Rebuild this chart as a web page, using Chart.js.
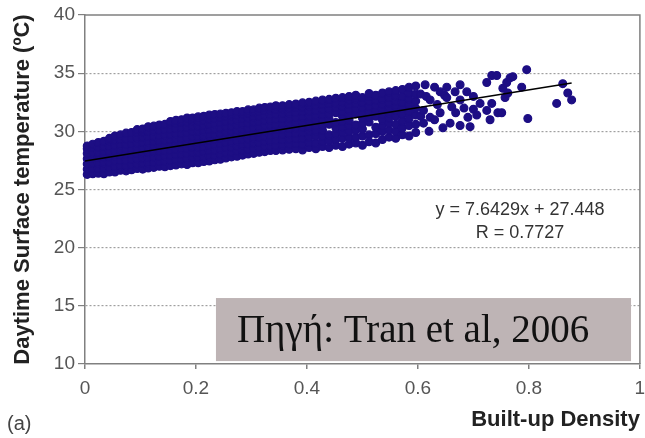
<!DOCTYPE html>
<html>
<head>
<meta charset="utf-8">
<script src="https://cdn.jsdelivr.net/npm/chart.js@4/dist/chart.umd.min.js"></script>
<style>
  html, body { margin: 0; padding: 0; background: #fff; }
  #wrap { width: 645px; height: 438px; }
</style>
</head>
<body>
<div id="wrap"><canvas id="chart" width="645" height="438"></canvas></div>
<script>
// Built-up density (x) against daytime surface temperature in °C (y).

// Dense part of the cloud: one density value per column, with the temperatures found in that column.
const coreDensity = [
  0.004, 0.014, 0.024, 0.034, 0.044, 0.054, 0.064, 0.074, 0.084, 0.094,
  0.104, 0.114, 0.124, 0.134, 0.144, 0.154, 0.164, 0.174, 0.184, 0.194,
  0.204, 0.214, 0.224, 0.234, 0.244, 0.254, 0.264, 0.274, 0.284, 0.294,
  0.304, 0.314, 0.324, 0.334, 0.344
];
const coreTemps = [
  [26.3, 26.75, 27.2, 27.65, 28.1, 28.5, 28.75],
  [26.35, 26.8, 27.25, 27.7, 28.15, 28.6, 28.9],
  [26.4, 26.8, 27.3, 27.75, 28.2, 28.65, 29.05],
  [26.35, 26.85, 27.3, 27.8, 28.25, 28.7, 29.15],
  [26.5, 26.9, 27.35, 27.8, 28.3, 28.75, 29.2, 29.4],
  [26.5, 27.0, 27.45, 27.9, 28.35, 28.8, 29.25, 29.6],
  [26.65, 27.05, 27.5, 27.95, 28.4, 28.85, 29.3, 29.7],
  [26.6, 27.05, 27.5, 28.0, 28.45, 28.9, 29.35, 29.85],
  [26.7, 27.15, 27.6, 28.05, 28.5, 28.95, 29.4, 29.9],
  [26.8, 27.2, 27.65, 28.1, 28.55, 29.0, 29.45, 29.9, 30.15],
  [26.75, 27.25, 27.7, 28.15, 28.6, 29.05, 29.5, 29.95, 30.2],
  [26.85, 27.3, 27.75, 28.2, 28.65, 29.1, 29.55, 30.0, 30.4],
  [26.9, 27.35, 27.8, 28.25, 28.7, 29.15, 29.6, 30.05, 30.45],
  [27.0, 27.4, 27.85, 28.3, 28.75, 29.2, 29.65, 30.1, 30.55],
  [26.95, 27.45, 27.9, 28.35, 28.8, 29.25, 29.7, 30.15, 30.6],
  [27.05, 27.5, 27.95, 28.4, 28.85, 29.3, 29.75, 30.2, 30.65, 30.85],
  [27.1, 27.55, 28.0, 28.45, 28.9, 29.35, 29.8, 30.25, 30.7, 30.95],
  [27.2, 27.6, 28.05, 28.5, 28.95, 29.4, 29.85, 30.3, 30.75, 31.0],
  [27.15, 27.65, 28.1, 28.55, 29.0, 29.45, 29.9, 30.35, 30.8, 31.15],
  [27.3, 27.75, 28.2, 28.65, 29.1, 29.55, 30.0, 30.45, 30.9, 31.15],
  [27.3, 27.75, 28.2, 28.65, 29.1, 29.55, 30.0, 30.45, 30.9, 31.25],
  [27.4, 27.8, 28.25, 28.7, 29.15, 29.6, 30.05, 30.5, 30.95, 31.3],
  [27.45, 27.9, 28.35, 28.8, 29.25, 29.7, 30.15, 30.6, 31.05, 31.4],
  [27.55, 27.95, 28.4, 28.85, 29.3, 29.75, 30.2, 30.65, 31.1, 31.45],
  [27.6, 28.05, 28.5, 28.95, 29.4, 29.85, 30.3, 30.75, 31.2, 31.5],
  [27.7, 28.15, 28.6, 29.05, 29.5, 29.95, 30.4, 30.85, 31.3, 31.55],
  [27.8, 28.2, 28.65, 29.1, 29.55, 30.0, 30.45, 30.9, 31.35, 31.6],
  [27.85, 28.3, 28.75, 29.2, 29.65, 30.1, 30.55, 31.0, 31.4, 31.7],
  [27.95, 28.4, 28.85, 29.3, 29.75, 30.2, 30.65, 31.1, 31.5, 31.7],
  [28.05, 28.45, 28.9, 29.35, 29.8, 30.25, 30.7, 31.15, 31.55, 31.85],
  [28.1, 28.55, 29.0, 29.45, 29.9, 30.35, 30.8, 31.25, 31.65, 31.85],
  [28.2, 28.6, 29.05, 29.5, 29.95, 30.4, 30.85, 31.3, 31.7, 32.0],
  [28.25, 28.7, 29.15, 29.6, 30.05, 30.5, 30.95, 31.4, 31.8, 32.05],
  [28.35, 28.75, 29.2, 29.65, 30.1, 30.55, 31.0, 31.45, 31.85, 32.1],
  [28.35, 28.8, 29.25, 29.7, 30.15, 30.6, 31.05, 31.5, 31.9, 32.2]
];

// Thinner part of the cloud, where gaps start to open up.
const midDensity = [
  0.356, 0.368, 0.380, 0.392, 0.404, 0.416, 0.428, 0.440, 0.452, 0.464,
  0.476, 0.488, 0.500, 0.512, 0.524, 0.536, 0.548, 0.560, 0.572, 0.584, 0.596
];
const midTemps = [
  [28.4, 28.85, 29.3, 29.75, 30.2, 30.65, 31.1, 31.55, 31.95, 32.2],
  [28.45, 28.9, 29.35, 29.8, 30.25, 30.7, 31.15, 31.6, 32.0, 32.3],
  [28.5, 28.95, 29.4, 29.85, 30.3, 30.75, 31.2, 31.65, 32.05, 32.35],
  [28.4, 28.9, 29.4, 29.9, 30.35, 30.8, 31.25, 31.7, 32.1, 32.45],
  [28.6, 29.05, 29.5, 30.0, 30.4, 30.85, 31.3, 31.75, 32.2, 32.5],
  [28.5, 29.0, 29.6, 30.05, 30.5, 30.95, 31.4, 31.8, 32.25, 32.6],
  [28.7, 29.15, 29.6, 30.1, 30.55, 31.0, 31.45, 31.9, 32.3, 32.7],
  [28.6, 29.2, 29.7, 30.6, 31.05, 31.5, 31.95, 32.4, 32.75],
  [28.8, 29.3, 29.8, 30.3, 30.75, 31.6, 32.05, 32.45, 32.85],
  [28.7, 29.4, 29.9, 30.4, 30.85, 31.3, 31.7, 32.15, 32.55, 32.9],
  [28.9, 29.45, 30.0, 30.5, 30.95, 31.4, 31.85, 32.3, 32.7, 33.0],
  [29.0, 29.5, 30.1, 30.55, 31.5, 31.95, 32.4, 32.8, 33.1],
  [28.8, 29.6, 30.2, 30.7, 31.15, 31.6, 32.05, 32.5, 32.9],
  [29.1, 29.7, 30.8, 31.2, 31.7, 32.15, 32.6, 33.0, 33.25],
  [29.0, 29.8, 30.35, 31.3, 31.8, 32.25, 32.7, 33.1],
  [29.3, 30.0, 30.5, 31.0, 31.5, 31.9, 32.35, 32.8, 33.3],
  [29.5, 30.1, 30.7, 31.15, 31.6, 32.0, 32.45, 32.9, 33.4],
  [29.4, 30.0, 30.6, 31.3, 31.8, 32.2, 32.6, 33.05, 33.5],
  [29.7, 30.3, 30.9, 31.5, 32.0, 32.5, 33.0, 33.6],
  [29.6, 30.5, 31.1, 31.7, 32.3, 32.8, 33.3, 33.8],
  [29.9, 30.6, 31.4, 32.0, 32.6, 33.2, 33.9]
];

// Scattered high-density points.
const sparseDensity = [
  0.605, 0.605, 0.610, 0.610, 0.613, 0.615, 0.620, 0.622, 0.622, 0.630,
  0.630, 0.635, 0.640, 0.640, 0.645, 0.648, 0.652, 0.652, 0.658, 0.661,
  0.667, 0.668, 0.676, 0.676, 0.676, 0.683, 0.688, 0.690, 0.694, 0.700,
  0.700, 0.706, 0.712, 0.724, 0.724, 0.730, 0.733, 0.733, 0.742, 0.744,
  0.751, 0.753, 0.757, 0.760, 0.762, 0.766, 0.771, 0.787, 0.796, 0.798,
  0.850, 0.861, 0.870, 0.877
];
const sparseTemp = [
  33.2, 31.3, 31.8, 30.7, 34.0, 33.0, 30.0, 32.7, 31.2, 33.8,
  31.0, 32.3, 33.4, 31.6, 30.3, 33.1, 33.8, 32.9, 30.7, 32.1,
  33.4, 31.6, 34.0, 32.7, 30.5, 32.0, 33.4, 31.2, 30.4, 33.0,
  31.9, 31.4, 32.4, 34.2, 31.8, 31.0, 34.8, 32.4, 34.8, 31.6,
  31.6, 33.7, 32.9, 34.2, 33.3, 34.6, 34.7, 33.8, 35.3, 31.1,
  32.4, 34.1, 33.3, 32.7
];

// Least-squares fit as printed on the chart.
const fitSlope = 7.6429;
const fitIntercept = 27.448;
const fitR = 0.7727;
const fitRange = [0, 0.877];

const xTicks = [0, 0.2, 0.4, 0.6, 0.8, 1];
const yTicks = [10, 15, 20, 25, 30, 35, 40];
const sourceNote = 'Πηγή: Tran et al, 2006';

// Assemble chart points.
function columnsToPoints(xs, cols) {
  const pts = [];
  xs.forEach((x, i) => cols[i].forEach(y => pts.push({ x: x, y: y })));
  return pts;
}
const scatterPoints = columnsToPoints(coreDensity, coreTemps)
  .concat(columnsToPoints(midDensity, midTemps))
  .concat(sparseDensity.map((x, i) => ({ x: x, y: sparseTemp[i] })));
const fitPoints = fitRange.map(x => ({ x: x, y: fitSlope * x + fitIntercept }));

const POINT = '#1d0e84';
const AXIS = '#808080';

const decorations = {
  id: 'decorations',
  beforeDatasetsDraw(chart) {
    // top and right frame lines
    const { ctx, chartArea: a } = chart;
    ctx.save();
    ctx.strokeStyle = AXIS;
    ctx.lineWidth = 1.5;
    ctx.beginPath();
    ctx.moveTo(a.left, a.top);
    ctx.lineTo(a.right, a.top);
    ctx.lineTo(a.right, a.bottom);
    ctx.stroke();
    ctx.restore();
  },
  afterDatasetsDraw(chart) {
    const { ctx } = chart;
    const xs = chart.scales.x, ys = chart.scales.y;
    ctx.save();
    // regression equation
    ctx.fillStyle = '#333';
    ctx.font = '18px "Liberation Sans", Arial, sans-serif';
    ctx.textAlign = 'center';
    ctx.textBaseline = 'alphabetic';
    const ex = xs.getPixelForValue(0.784);
    ctx.fillText('y = ' + fitSlope + 'x + ' + fitIntercept.toFixed(3), ex, ys.getPixelForValue(22.8));
    ctx.fillText('R = ' + fitR, ex, ys.getPixelForValue(20.85));
    // source box
    const bx0 = xs.getPixelForValue(0.236), bx1 = xs.getPixelForValue(0.984);
    const by0 = ys.getPixelForValue(15.67), by1 = ys.getPixelForValue(10.25);
    ctx.fillStyle = '#beb4b5';
    ctx.fillRect(bx0, by0, bx1 - bx0, by1 - by0);
    ctx.fillStyle = '#111';
    ctx.font = '39px "Liberation Serif", "DejaVu Serif", serif';
    ctx.textAlign = 'left';
    ctx.fillText(sourceNote, bx0 + 21, by0 + 44);
    // panel letter
    ctx.fillStyle = '#444';
    ctx.font = '20px "Liberation Sans", Arial, sans-serif';
    ctx.fillText('(a)', 7, 430);
    ctx.restore();
  }
};

new Chart(document.getElementById('chart'), {
  type: 'scatter',
  data: {
    datasets: [
      {
        label: 'Observations',
        data: scatterPoints,
        backgroundColor: POINT,
        borderColor: POINT,
        borderWidth: 1.2,
        pointRadius: 3.9,
        pointHoverRadius: 3.9,
        clip: false,
        order: 2
      },
      {
        type: 'line',
        label: 'Linear fit',
        data: fitPoints,
        borderColor: '#000',
        borderWidth: 1.6,
        pointRadius: 0,
        fill: false,
        order: 1
      }
    ]
  },
  options: {
    responsive: false,
    animation: false,
    events: [],
    layout: { padding: { top: 15, right: 4, left: 0, bottom: 0 } },
    plugins: { legend: { display: false }, tooltip: { enabled: false } },
    scales: {
      x: {
        type: 'linear',
        min: 0, max: 1,
        afterBuildTicks: s => { s.ticks = xTicks.map(v => ({ value: v })); },
        afterFit: s => { s.height = 74; s.paddingLeft = 0; s.paddingRight = 0; },
        ticks: {
          color: '#555',
          font: { family: '"Liberation Sans", Arial, sans-serif', size: 19 },
          padding: 8,
          maxRotation: 0,
          callback: v => String(v)
        },
        grid: { drawOnChartArea: false, drawTicks: true, tickLength: 5, tickColor: AXIS, lineWidth: 1.5 },
        border: { display: true, color: AXIS, width: 1.5 },
        title: {
          display: true,
          text: 'Built-up Density',
          align: 'end',
          color: '#222',
          font: { family: '"Liberation Sans", Arial, sans-serif', size: 22, weight: 'bold' },
          padding: { top: 0, bottom: 5 }
        }
      },
      y: {
        type: 'linear',
        min: 10, max: 40,
        afterBuildTicks: s => { s.ticks = yTicks.map(v => ({ value: v })); },
        afterFit: s => { s.width = 85; },
        ticks: {
          color: '#555',
          font: { family: '"Liberation Sans", Arial, sans-serif', size: 19 },
          padding: 3,
          callback: v => String(v)
        },
        grid: {
          drawTicks: true,
          tickLength: 7,
          tickColor: AXIS,
          lineWidth: 1.2,
          color: c => (c.tick && c.tick.value > 10 && c.tick.value < 40) ? '#a0a0a0' : 'rgba(0,0,0,0)'
        },
        border: { display: true, color: AXIS, width: 1.5, dash: [2, 2] },
        title: {
          display: true,
          text: 'Daytime Surface temperature (ºC)',
          color: '#222',
          font: { family: '"Liberation Sans", Arial, sans-serif', size: 22, weight: 'bold' },
          padding: { top: 10, bottom: 0 }
        }
      }
    }
  },
  plugins: [decorations]
});
</script>
</body>
</html>
